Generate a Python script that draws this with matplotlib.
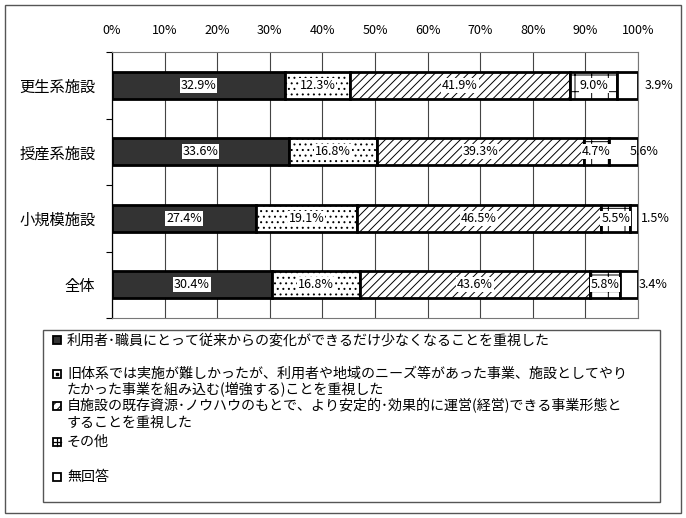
import matplotlib
matplotlib.use('Agg')
import matplotlib.pyplot as plt
from matplotlib.patches import Rectangle
from matplotlib.lines import Line2D
import numpy as np

plt.rcParams['font.family'] = ['Noto Sans CJK JP', 'DejaVu Sans']
plt.rcParams['hatch.linewidth'] = 0.7

# ---------------- data ----------------
categories = ['更生系施設', '授産系施設', '小規模施設', '全体']
s1 = [32.9, 33.6, 27.4, 30.4]   # 利用者･職員…
s2 = [12.3, 16.8, 19.1, 16.8]   # 旧体系…
s3 = [41.9, 39.3, 46.5, 43.6]   # 自施設…
s4 = [9.0, 4.7, 5.5, 5.8]       # その他
s5 = [3.9, 5.6, 1.5, 3.4]       # 無回答
xtick_values = [0, 10, 20, 30, 40, 50, 60, 70, 80, 90, 100]
xtick_labels = ['0%', '10%', '20%', '30%', '40%', '50%', '60%', '70%', '80%', '90%', '100%']
legend_lines = [
    ['利用者･職員にとって従来からの変化ができるだけ少なくなることを重視した'],
    ['旧体系では実施が難しかったが、利用者や地域のニーズ等があった事業、施設としてやり',
     'たかった事業を組み込む(増強する)ことを重視した'],
    ['自施設の既存資源･ノウハウのもとで、より安定的･効果的に運営(経営)できる事業形態と',
     'することを重視した'],
    ['その他'],
    ['無回答'],
]

series = [s1, s2, s3, s4, s5]

# ---------------- styles ----------------
W, H = 686, 518
fills = ['#333333', 'white', 'white', 'white', 'white']
hatches = [None, '...', '////', '+', None]
last_label_offset_px = [21, 6, 17, 15]


def fx(x):
    return x / W


def fy(y):
    return 1 - y / H


fig = plt.figure(figsize=(W / 100, H / 100), dpi=100)
fig.patch.set_facecolor('white')

# outer border
fig.patches.append(Rectangle((fx(5), fy(513)), fx(681) - fx(5), fy(5) - fy(513),
                             transform=fig.transFigure, fill=False,
                             edgecolor='#555555', linewidth=1.0))

ax = fig.add_axes([fx(112), fy(318), fx(638) - fx(112), fy(52) - fy(318)])
y = np.arange(len(categories))
left = np.zeros(len(categories))
for i, vals in enumerate(series):
    vals = np.array(vals)
    ax.barh(y, vals, left=left, height=0.4, color=fills[i], edgecolor='black',
            linewidth=2.0, hatch=hatches[i], zorder=3)
    for j, v in enumerate(vals):
        if i < 4:
            ax.text(left[j] + v / 2, y[j], f'{v:.1f}%', ha='center', va='center',
                    fontsize=9, zorder=5,
                    bbox=dict(facecolor='white', edgecolor='none', pad=0.6))
        else:
            ax.annotate(f'{v:.1f}%', xy=(100, y[j]), xytext=(last_label_offset_px[j], 0),
                        textcoords='offset pixels', ha='center', va='center',
                        fontsize=9, zorder=5, annotation_clip=False)
    left = left + vals

ax.set_xlim(0, 100)
ax.set_ylim(len(categories) - 0.5, -0.5)
ax.xaxis.tick_top()
ax.set_xticks(xtick_values)
ax.set_xticklabels(xtick_labels, fontsize=9)
ax.tick_params(axis='x', length=0, pad=11)
ax.set_yticks(y)
ax.set_yticklabels(categories, fontsize=11)
ax.tick_params(axis='y', which='major', length=0, pad=12)
ax.set_yticks(np.arange(len(categories) + 1) - 0.5, minor=True)
ax.tick_params(axis='y', which='minor', length=4, width=0.8, direction='out', color='black')
ax.grid(axis='x', color='#444444', linewidth=0.8, zorder=0)
for s in ['top', 'bottom', 'right']:
    ax.spines[s].set_color('#777777')
    ax.spines[s].set_linewidth(0.8)
ax.spines['left'].set_color('black')
ax.spines['left'].set_linewidth(0.9)

# ---------------- legend ----------------
fig.patches.append(Rectangle((fx(43), fy(502)), fx(660) - fx(43), fy(330) - fy(502),
                             transform=fig.transFigure, fill=False,
                             edgecolor='#555555', linewidth=1.0))
row_y = [[340], [374, 390], [406, 423], [442], [477]]
mx, ms = 57, 8
for k, lines in enumerate(legend_lines):
    cy = row_y[k][0]
    # marker
    fig.patches.append(Rectangle((fx(mx - ms / 2), fy(cy + ms / 2)), fx(ms), ms / H,
                                 transform=fig.transFigure, facecolor=fills[k],
                                 edgecolor='black', linewidth=1.3,
                                 hatch=('////' if k == 2 else None)))
    if k == 1:
        fig.lines.append(Line2D([fx(mx)], [fy(cy)], marker='s', markersize=1.8,
                                color='black', transform=fig.transFigure))
    if k == 3:
        fig.lines.append(Line2D([fx(mx - ms / 2), fx(mx + ms / 2)], [fy(cy), fy(cy)],
                                color='black', linewidth=0.9, transform=fig.transFigure))
        fig.lines.append(Line2D([fx(mx), fx(mx)], [fy(cy - ms / 2), fy(cy + ms / 2)],
                                color='black', linewidth=0.9, transform=fig.transFigure))
    for t, ly in zip(lines, row_y[k]):
        fig.text(fx(67), fy(ly), t, ha='left', va='center', fontsize=10.1)

fig.savefig('out.png', dpi=100, facecolor='white')
